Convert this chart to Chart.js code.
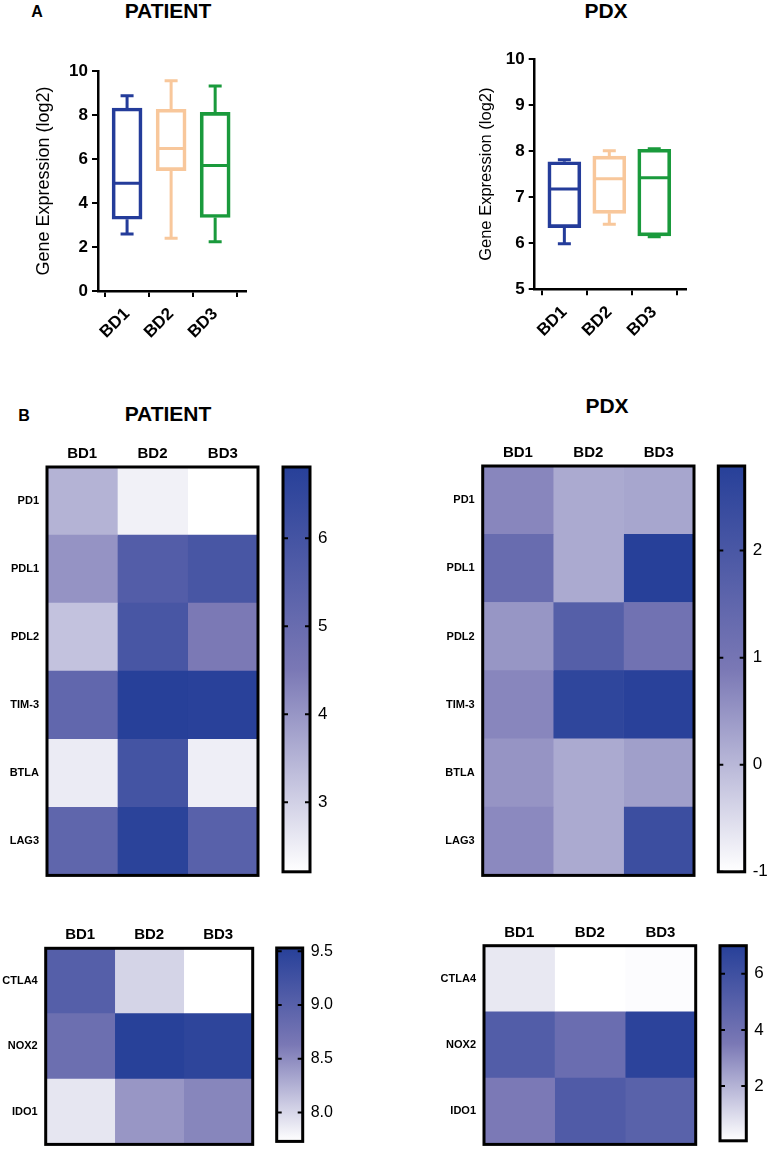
<!DOCTYPE html>
<html>
<head>
<meta charset="utf-8">
<script src="https://cdn.jsdelivr.net/npm/chart.js@4.4.1/dist/chart.umd.min.js"></script>
<style>
  body { margin: 0; background: #fff; }
  #page { position: relative; width: 768px; height: 1159px; overflow: hidden; font-family: "Liberation Sans", Arial, sans-serif; }
  canvas { position: absolute; }
  .lbl { position: absolute; font-weight: bold; line-height: 1; white-space: nowrap; transform: translate(-50%, -50%); color: #000; }
</style>
</head>
<body>
<div id="page">
  <div class="lbl" style="left:37px; top:12px; font-size:16px;">A</div>
  <div class="lbl" style="left:168px; top:10px; font-size:21px;">PATIENT</div>
  <div class="lbl" style="left:606px; top:10px; font-size:21px;">PDX</div>
  <div class="lbl" style="left:24px; top:416px; font-size:16px;">B</div>
  <div class="lbl" style="left:168px; top:413px; font-size:21px;">PATIENT</div>
  <div class="lbl" style="left:607px; top:405px; font-size:21px;">PDX</div>

  <canvas id="boxPatient" width="270" height="330" style="left:0px; top:50px;"></canvas>
  <canvas id="boxPdx" width="290" height="330" style="left:430px; top:40px;"></canvas>

  <canvas id="heatPatientTop" width="262" height="460" style="left:0px; top:430px;"></canvas>
  <canvas id="barPatientTop" width="80" height="460" style="left:270px; top:430px;"></canvas>
  <canvas id="heatPdxTop" width="278" height="460" style="left:420px; top:430px;"></canvas>
  <canvas id="barPdxTop" width="63" height="460" style="left:705px; top:430px;"></canvas>

  <canvas id="heatPatientBottom" width="256" height="249" style="left:0px; top:910px;"></canvas>
  <canvas id="barPatientBottom" width="90" height="249" style="left:262px; top:910px;"></canvas>
  <canvas id="heatPdxBottom" width="280" height="249" style="left:420px; top:910px;"></canvas>
  <canvas id="barPdxBottom" width="63" height="249" style="left:705px; top:910px;"></canvas>
</div>
<script>
Chart.defaults.font.family = '"Liberation Sans", Arial, sans-serif';
Chart.defaults.color = "#000";

// ---- box plot data ----
var boxLabels = ["BD1", "BD2", "BD3"];
var boxColors = ["#243c9a", "#f8c79b", "#1a9a3c"];

var patientMin = [2.59, 2.40, 2.24];
var patientQ1 = [3.26, 5.47, 3.34];
var patientMedian = [4.90, 6.48, 5.70];
var patientQ3 = [8.32, 8.26, 8.12];
var patientMax = [8.88, 9.56, 9.32];

var pdxMin = [5.99, 6.41, 6.14];
var pdxQ1 = [6.34, 6.65, 6.16];
var pdxMedian = [7.18, 7.40, 7.42];
var pdxQ3 = [7.77, 7.89, 8.04];
var pdxMax = [7.81, 8.01, 8.05];

// ---- heatmap data (panel B), rows x [BD1, BD2, BD3] ----
var heatCols = ["BD1", "BD2", "BD3"];
var checkpointRows = ["PD1", "PDL1", "PDL2", "TIM-3", "BTLA", "LAG3"];
var otherRows = ["CTLA4", "NOX2", "IDO1"];

var patientCheckpoint = [
  [3.50, 2.45, 2.21],
  [4.05, 5.60, 5.90],
  [3.25, 5.90, 4.50],
  [5.20, 6.81, 6.75],
  [2.55, 6.00, 2.50],
  [5.25, 6.70, 5.45],
];
var patientCheckpointRange = [2.21, 6.81];

var pdxCheckpoint = [
  [0.70, 0.20, 0.25],
  [1.30, 0.20, 2.79],
  [0.48, 1.75, 1.10],
  [0.70, 2.60, 2.75],
  [0.50, 0.20, 0.35],
  [0.65, 0.20, 2.30],
];
var pdxCheckpointRange = [-1, 2.79];

var patientOther = [
  [9.03, 8.02, 7.73],
  [8.78, 9.52, 9.45],
  [7.90, 8.43, 8.54],
];
var patientOtherRange = [7.73, 9.53];

var pdxOther = [
  [0.65, 0.05, 0.12],
  [5.20, 4.20, 6.80],
  [3.50, 5.30, 4.90],
];
var pdxOtherRange = [0.05, 7.0];

// white -> lavender -> blue, like the GraphPad scale
var heatStops = [
  [0, [255, 255, 255]],
  [0.5, [122, 120, 181]],
  [1, [39, 64, 153]],
];

function heatColor(v, lo, hi) {
  var t = Math.min(1, Math.max(0, (v - lo) / (hi - lo)));
  for (var i = 1; i < heatStops.length; i++) {
    if (t <= heatStops[i][0]) {
      var a = heatStops[i - 1], b = heatStops[i];
      var f = (t - a[0]) / (b[0] - a[0]);
      var c = a[1].map(function (x, k) { return Math.round(x + (b[1][k] - x) * f); });
      return "rgb(" + c.join(",") + ")";
    }
  }
  return "rgb(" + heatStops[heatStops.length - 1][1].join(",") + ")";
}

// black outline around the plot area
var frame = {
  id: "frame",
  afterDraw: function (chart) {
    var a = chart.chartArea, ctx = chart.ctx;
    ctx.save();
    ctx.strokeStyle = "#000";
    ctx.lineWidth = 3;
    ctx.strokeRect(a.left, a.top, a.right - a.left, a.bottom - a.top);
    ctx.restore();
  },
};

// little dashes on both inner edges of a colour bar
var barTicks = {
  id: "barTicks",
  afterDraw: function (chart) {
    var a = chart.chartArea, ctx = chart.ctx, y = chart.scales.y;
    ctx.save();
    ctx.strokeStyle = "#000";
    ctx.lineWidth = 2;
    y.ticks.forEach(function (t) {
      var py = y.getPixelForValue(t.value);
      ctx.beginPath();
      ctx.moveTo(a.left, py); ctx.lineTo(a.left + 5, py);
      ctx.moveTo(a.right - 5, py); ctx.lineTo(a.right, py);
      ctx.stroke();
    });
    ctx.restore();
  },
};

function makeBoxPlot(id, mins, q1, med, q3, maxs, yMin, yMax, step, opt) {
  var whiskers = {
    id: "whiskers",
    afterDatasetsDraw: function (chart) {
      var ctx = chart.ctx, y = chart.scales.y;
      var meta = chart.getDatasetMeta(0);
      ctx.save();
      ctx.lineWidth = 3;
      meta.data.forEach(function (bar, i) {
        var x = bar.x, half = bar.width / 2 - 1.5, cap = 6.5;
        var pMin = y.getPixelForValue(mins[i]);
        var pQ1 = y.getPixelForValue(q1[i]);
        var pMed = y.getPixelForValue(med[i]);
        var pQ3 = y.getPixelForValue(q3[i]);
        var pMax = y.getPixelForValue(maxs[i]);
        ctx.strokeStyle = boxColors[i];
        ctx.beginPath();
        ctx.moveTo(x - half, pMed); ctx.lineTo(x + half, pMed);
        ctx.moveTo(x, pQ3); ctx.lineTo(x, pMax);
        ctx.moveTo(x - cap, pMax); ctx.lineTo(x + cap, pMax);
        ctx.moveTo(x, pQ1); ctx.lineTo(x, pMin);
        ctx.moveTo(x - cap, pMin); ctx.lineTo(x + cap, pMin);
        ctx.stroke();
      });
      ctx.restore();
    },
  };

  return new Chart(document.getElementById(id), {
    type: "bar",
    data: {
      datasets: [
        {
          data: boxLabels.map(function (_, i) { return { x: i, y: [q1[i], q3[i]] }; }),
          backgroundColor: "rgba(0,0,0,0)",
          borderColor: boxColors,
          borderWidth: 3,
          borderSkipped: false,
          barThickness: opt.barWidth,
        },
      ],
    },
    options: {
      responsive: false,
      animation: false,
      layout: { padding: opt.padding },
      plugins: { legend: { display: false }, tooltip: { enabled: false } },
      scales: {
        x: {
          type: "linear",
          offset: false,
          min: -0.66,
          max: 2.7,
          afterBuildTicks: function (axis) {
            axis.ticks = boxLabels.map(function (_, i) { return { value: i }; });
          },
          afterFit: function (s) { s.height = opt.xHeight; },
          grid: { drawOnChartArea: false, color: "#000", lineWidth: 2, tickLength: 6 },
          border: { color: "#000", width: 2.5 },
          ticks: {
            autoSkip: false,
            minRotation: 45,
            maxRotation: 45,
            padding: 7,
            font: { size: 17, weight: "bold" },
            callback: function (v, i) { return boxLabels[i]; },
          },
        },
        y: {
          min: yMin,
          max: yMax,
          afterFit: function (s) { s.width = opt.yWidth; },
          grid: { drawOnChartArea: false, color: "#000", lineWidth: 2, tickLength: 6 },
          border: { color: "#000", width: 2.5 },
          ticks: { stepSize: step, padding: 4, font: { size: 17, weight: "bold" } },
          title: {
            display: true,
            text: "Gene Expression (log2)",
            font: { size: opt.titleSize },
            padding: { top: opt.titlePad, bottom: 0 },
          },
        },
      },
    },
    plugins: [whiskers],
  });
}

function makeHeatmap(id, rows, values, range, opt) {
  return new Chart(document.getElementById(id), {
    type: "bar",
    data: {
      labels: rows,
      datasets: heatCols.map(function (col, c) {
        return {
          label: col,
          data: rows.map(function () { return [c, c + 1]; }),
          backgroundColor: rows.map(function (_, r) { return heatColor(values[r][c], range[0], range[1]); }),
          borderWidth: 0,
          barPercentage: 1,
          categoryPercentage: 1,
          grouped: false,
        };
      }),
    },
    options: {
      indexAxis: "y",
      responsive: false,
      animation: false,
      layout: { padding: opt.padding },
      plugins: { legend: { display: false }, tooltip: { enabled: false } },
      scales: {
        x: {
          type: "linear",
          position: "top",
          min: 0,
          max: 3,
          afterBuildTicks: function (axis) {
            axis.ticks = heatCols.map(function (_, i) { return { value: i + 0.5 }; });
          },
          afterFit: function (s) { s.height = opt.xHeight; },
          grid: { display: false, drawTicks: false },
          border: { display: false },
          ticks: {
            autoSkip: false,
            maxRotation: 0,
            padding: 4,
            font: { size: 15, weight: "bold" },
            callback: function (v, i) { return heatCols[i]; },
          },
        },
        y: {
          afterFit: function (s) { s.width = opt.yWidth; },
          grid: { display: false, drawTicks: false },
          border: { display: false },
          ticks: { padding: 8, font: { size: 11, weight: "bold" } },
        },
      },
    },
    plugins: [frame],
  });
}

function makeColorbar(id, range, step, digits, opt) {
  return new Chart(document.getElementById(id), {
    type: "bar",
    data: {
      labels: [""],
      datasets: [
        {
          data: [range],
          backgroundColor: function (ctx) {
            var area = ctx.chart.chartArea;
            if (!area) return "rgba(0,0,0,0)";
            var g = ctx.chart.ctx.createLinearGradient(0, area.bottom, 0, area.top);
            heatStops.forEach(function (s) { g.addColorStop(s[0], "rgb(" + s[1].join(",") + ")"); });
            return g;
          },
          borderWidth: 0,
          barPercentage: 1,
          categoryPercentage: 1,
        },
      ],
    },
    options: {
      responsive: false,
      animation: false,
      layout: { padding: opt.padding },
      plugins: { legend: { display: false }, tooltip: { enabled: false } },
      scales: {
        x: { display: false },
        y: {
          position: "right",
          min: range[0],
          max: range[1],
          afterFit: function (s) { s.width = opt.yWidth; },
          grid: { display: false, drawTicks: false },
          border: { display: false },
          ticks: {
            stepSize: step,
            includeBounds: false,
            padding: 8,
            font: { size: opt.fontSize },
            callback: function (v) { return v.toFixed(digits); },
          },
        },
      },
    },
    plugins: [frame, barTicks],
  });
}

// panel A
makeBoxPlot("boxPatient", patientMin, patientQ1, patientMedian, patientQ3, patientMax, 0, 10, 2, {
  padding: { top: 21, right: 24, left: 0, bottom: 0 },
  xHeight: 89, yWidth: 98, barWidth: 30, titleSize: 18, titlePad: 33,
});
makeBoxPlot("boxPdx", pdxMin, pdxQ1, pdxMedian, pdxQ3, pdxMax, 5, 10, 1, {
  padding: { top: 19, right: 34.3, left: 0, bottom: 0 },
  xHeight: 80.7, yWidth: 104.7, barWidth: 33, titleSize: 16.5, titlePad: 47,
});

// panel B, checkpoint genes
makeHeatmap("heatPatientTop", checkpointRows, patientCheckpoint, patientCheckpointRange, {
  padding: { top: 0, right: 4, bottom: 2, left: 0 }, xHeight: 37, yWidth: 47,
});
makeColorbar("barPatientTop", patientCheckpointRange, 1, 0, {
  padding: { top: 37, right: 0, bottom: 2, left: 13 }, yWidth: 40, fontSize: 17,
});
makeHeatmap("heatPdxTop", checkpointRows, pdxCheckpoint, pdxCheckpointRange, {
  padding: { top: 0, right: 4, bottom: 3.3, left: 0 }, xHeight: 36, yWidth: 62.7,
});
makeColorbar("barPdxTop", pdxCheckpointRange, 1, 0, {
  padding: { top: 36, right: 0, bottom: 3, left: 13.3 }, yWidth: 23.3, fontSize: 17,
});

// panel B, other genes
makeHeatmap("heatPatientBottom", otherRows, patientOther, patientOtherRange, {
  padding: { top: 0, right: 3.3, bottom: 3, left: 0 }, xHeight: 38.3, yWidth: 45.7,
});
makeColorbar("barPatientBottom", patientOtherRange, 0.5, 1, {
  padding: { top: 38, right: 0, bottom: 3, left: 14.7 }, yWidth: 49.3, fontSize: 16,
});
makeHeatmap("heatPdxBottom", otherRows, pdxOther, pdxOtherRange, {
  padding: { top: 0, right: 4.3, bottom: 2.3, left: 0 }, xHeight: 35.7, yWidth: 64,
});
makeColorbar("barPdxBottom", pdxOtherRange, 2, 0, {
  padding: { top: 35.7, right: 0, bottom: 2.3, left: 15 }, yWidth: 21.7, fontSize: 17,
});
</script>
</body>
</html>
